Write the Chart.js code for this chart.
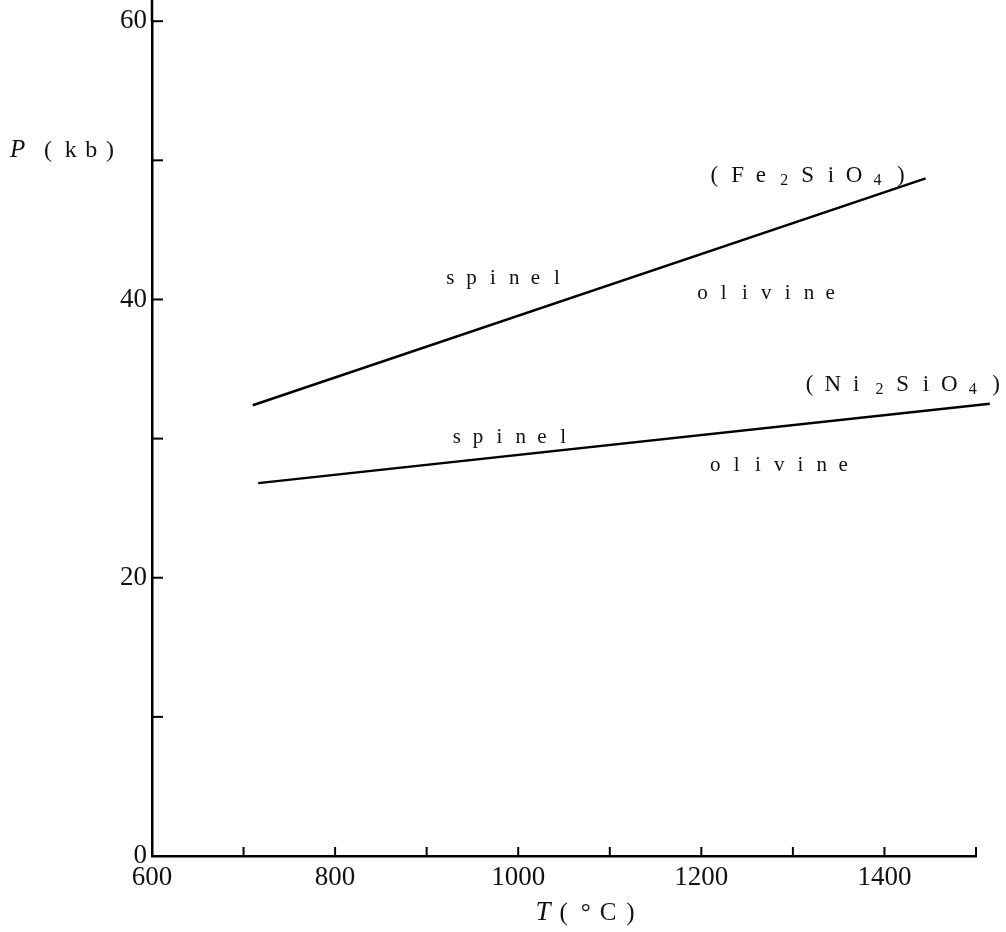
<!DOCTYPE html>
<html>
<head>
<meta charset="utf-8">
<title>Olivine - spinel transition</title>
<script src="https://cdn.jsdelivr.net/npm/chart.js@4.4.1/dist/chart.umd.min.js"></script>
<style>
  body { margin: 0; background: #fff; }
  #wrap { width: 1006px; height: 932px; }
</style>
</head>
<body>
<div id="wrap"><canvas id="phaseChart" width="1006" height="932"></canvas></div>
<script>
// ─────────────────────────────────────────────
// Data (T in °C, P in kb)
// ─────────────────────────────────────────────
const feTemp = [710, 1445];
const fePress = [32.4, 48.7];
const niTemp = [716, 1515];
const niPress = [26.8, 32.5];

const tempLabels = [600, 800, 1000, 1200, 1400];
const pressLabels = [0, 20, 40, 60];

// phase field names, anchored at (T, P) of their baseline centre
const fieldNames = ['spinel', 'olivine', 'spinel', 'olivine'];
const fieldTemp = [984, 1271, 991, 1285];
const fieldPress = [41.1, 40.05, 29.7, 27.7];

// compound names, digits are drawn as subscripts
const compoundNames = ['(Fe2SiO4)', '(Ni2SiO4)'];
const compoundTemp = [1316, 1420];
const compoundPress = [48.45, 33.45];

const INK = '#111';
const SERIF = '"Liberation Serif", "DejaVu Serif", serif';

function toPoints(xs, ys) {
    return xs.map((x, i) => ({ x: x, y: ys[i] }));
}

// draw a word with a fixed pitch, typewriter style
function drawSpaced(ctx, text, cx, baseY, pitch, size, subDigits) {
    const chars = text.split('');
    const start = cx - (chars.length - 1) * pitch / 2;
    chars.forEach((c, i) => {
        const isSub = subDigits && /[0-9]/.test(c);
        ctx.font = (isSub ? Math.round(size * 0.7) : size) + 'px ' + SERIF;
        ctx.fillText(c, start + i * pitch, baseY + (isSub ? 3 : 0));
    });
}

const decorations = {
    id: 'decorations',
    afterDraw(chart) {
        const { ctx, chartArea, scales: { x, y } } = chart;
        ctx.save();

        // axis line runs up to the top edge
        ctx.strokeStyle = '#000';
        ctx.lineWidth = 2.5;
        ctx.beginPath();
        ctx.moveTo(chartArea.left, 0);
        ctx.lineTo(chartArea.left, chartArea.top);
        ctx.stroke();

        // tick marks point into the plot
        ctx.lineWidth = 2;
        x.ticks.forEach(t => {
            const px = x.getPixelForValue(t.value);
            ctx.beginPath();
            ctx.moveTo(px, chartArea.bottom);
            ctx.lineTo(px, chartArea.bottom - 9);
            ctx.stroke();
        });
        y.ticks.forEach(t => {
            const py = y.getPixelForValue(t.value);
            ctx.beginPath();
            ctx.moveTo(chartArea.left, py);
            ctx.lineTo(chartArea.left + 11, py);
            ctx.stroke();
        });

        ctx.fillStyle = INK;
        ctx.textAlign = 'center';
        ctx.textBaseline = 'alphabetic';

        fieldNames.forEach((name, i) => {
            drawSpaced(ctx, name, x.getPixelForValue(fieldTemp[i]),
                y.getPixelForValue(fieldPress[i]), 21.3, 21, false);
        });

        compoundNames.forEach((name, i) => {
            drawSpaced(ctx, name, x.getPixelForValue(compoundTemp[i]),
                y.getPixelForValue(compoundPress[i]), 23.3, 23, true);
        });

        // axis titles: italic symbol, upright unit
        ctx.textAlign = 'left';
        ctx.font = 'italic 25px ' + SERIF;
        ctx.fillText('P', 10, 157);
        drawSpaced(ctx, '(kb)', 75, 157, 20.7, 24, false);

        ctx.textAlign = 'center';
        ctx.font = 'italic 27px ' + SERIF;
        ctx.fillText('T', 543, 920);
        drawSpaced(ctx, '(°C)', 597, 920, 22.3, 25, false);

        ctx.restore();
    }
};

const lineStyle = {
    borderColor: '#000',
    borderWidth: 2.5,
    pointRadius: 0,
    fill: false,
    tension: 0,
    clip: false
};

new Chart(document.getElementById('phaseChart'), {
    type: 'scatter',
    data: {
        datasets: [
            Object.assign({ label: 'Fe2SiO4', data: toPoints(feTemp, fePress), showLine: true }, lineStyle),
            Object.assign({ label: 'Ni2SiO4', data: toPoints(niTemp, niPress), showLine: true }, lineStyle)
        ]
    },
    options: {
        responsive: false,
        animation: false,
        devicePixelRatio: 1,
        layout: { padding: { left: 0, top: 20, right: 30, bottom: 0 } },
        plugins: {
            legend: { display: false },
            tooltip: { enabled: false }
        },
        scales: {
            x: {
                type: 'linear',
                min: 600,
                max: 1500,
                afterFit: s => { s.height = 76; },
                border: { display: true, color: '#000', width: 2.5 },
                grid: { drawOnChartArea: false, drawTicks: false },
                ticks: {
                    stepSize: 100,
                    autoSkip: false,
                    maxRotation: 0,
                    padding: 6,
                    color: INK,
                    font: { family: SERIF, size: 27 },
                    callback: v => tempLabels.includes(v) ? String(v) : ''
                }
            },
            y: {
                type: 'linear',
                min: 0,
                max: 60,
                afterFit: s => { s.width = 152; },
                border: { display: true, color: '#000', width: 2.5 },
                grid: { drawOnChartArea: false, drawTicks: false },
                ticks: {
                    stepSize: 10,
                    autoSkip: false,
                    padding: 5,
                    color: INK,
                    font: { family: SERIF, size: 27 },
                    callback: v => pressLabels.includes(v) ? String(v) : ''
                }
            }
        }
    },
    plugins: [decorations]
});
</script>
</body>
</html>
